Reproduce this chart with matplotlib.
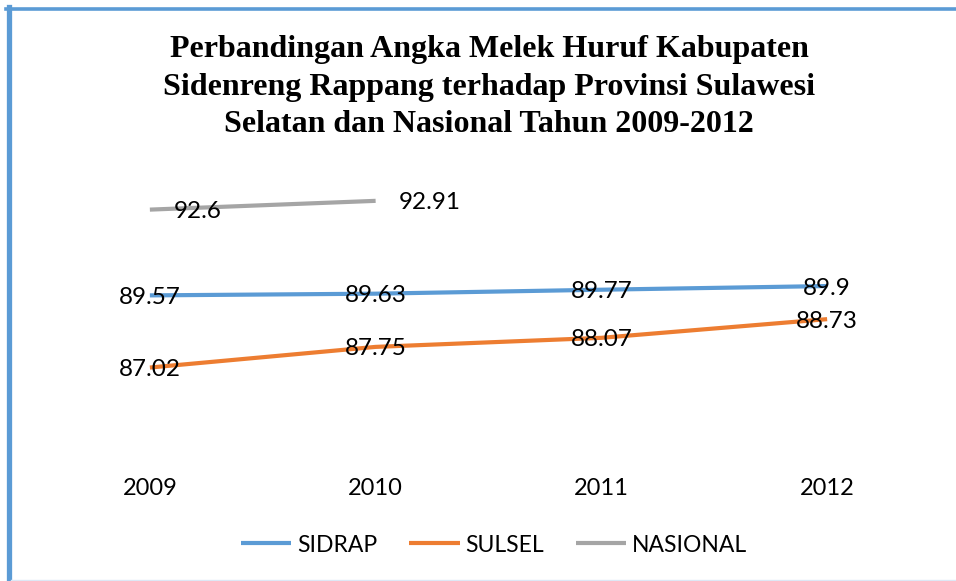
import numpy as np
import matplotlib.pyplot as plt
from matplotlib.lines import Line2D

# data
years = ["2009", "2010", "2011", "2012"]
sidrap = [89.57, 89.63, 89.77, 89.9]
sulsel = [87.02, 87.75, 88.07, 88.73]
nasional = [92.6, 92.91, np.nan, np.nan]
series_names = ["SIDRAP", "SULSEL", "NASIONAL"]
colors = ["#5B9BD5", "#ED7D31", "#A5A5A5"]

title = ("Perbandingan Angka Melek Huruf Kabupaten\n"
         "Sidenreng Rappang terhadap Provinsi Sulawesi\n"
         "Selatan dan Nasional Tahun 2009-2012")

W, H = 956, 581
fig = plt.figure(figsize=(W/100, H/100), dpi=100)
ax = fig.add_axes([37/W, (H-470)/H, (940-37)/W, 300/H])

x = np.arange(len(years))
lab_font = dict(family="Lato", fontsize=17.5, color="black")

for vals, name, c in zip([sidrap, sulsel, nasional], series_names, colors):
    ax.plot(x, vals, color=c, lw=3, solid_capstyle="butt", label=name)

#labels centered on the points for SIDRAP and SULSEL
for i, v in enumerate(sidrap):
    ax.annotate(f"{v:g}", (x[i], v), xytext=(0, -1.5), textcoords="offset points",
                ha="center", va="center", **lab_font)
for i, v in enumerate(sulsel):
    ax.annotate(f"{v:g}", (x[i], v), xytext=(0, -1.5), textcoords="offset points",
                ha="center", va="center", **lab_font)
# NASIONAL labels sit to the right of the points
for i, v in enumerate(nasional):
    if not np.isnan(v):
        ax.annotate(f"{v:g}", (x[i], v), xytext=(17, -1.5), textcoords="offset points",
                    ha="left", va="center", **lab_font)

ax.set_xlim(-0.5, 3.5)
ax.set_ylim(83.4, 94.0)
ax.set_xticks(x)
ax.set_xticklabels(years, family="Lato", fontsize=17)
ax.tick_params(axis="x", length=0, pad=6)
ax.set_yticks([])
for s in ax.spines.values():
    s.set_visible(False)

fig.text(489/W, 1-87/H, title, ha="center", va="center", family="Liberation Serif",
         fontweight="bold", fontsize=23, linespacing=1.4)

leg = fig.legend(loc="center", bbox_to_anchor=(494/W, 1-545/H), ncol=3, frameon=False,
                 prop=dict(family="Lato", size=16.5), handlelength=2.2, columnspacing=1.4,
                 handletextpad=0.25)

# chart border pieces
fig.add_artist(Line2D([8.5/W, 8.5/W], [0, 1-7/H], color="#5B9BD5", lw=3.8, transform=fig.transFigure))
fig.add_artist(Line2D([6/W, 1], [1-8.5/H, 1-8.5/H], color="#5B9BD5", lw=2.6, transform=fig.transFigure))
fig.add_artist(Line2D([11/W, 1], [0.7/H, 0.7/H], color="#DDE8F5", lw=1, transform=fig.transFigure))

fig.savefig("out.png", dpi=100)
